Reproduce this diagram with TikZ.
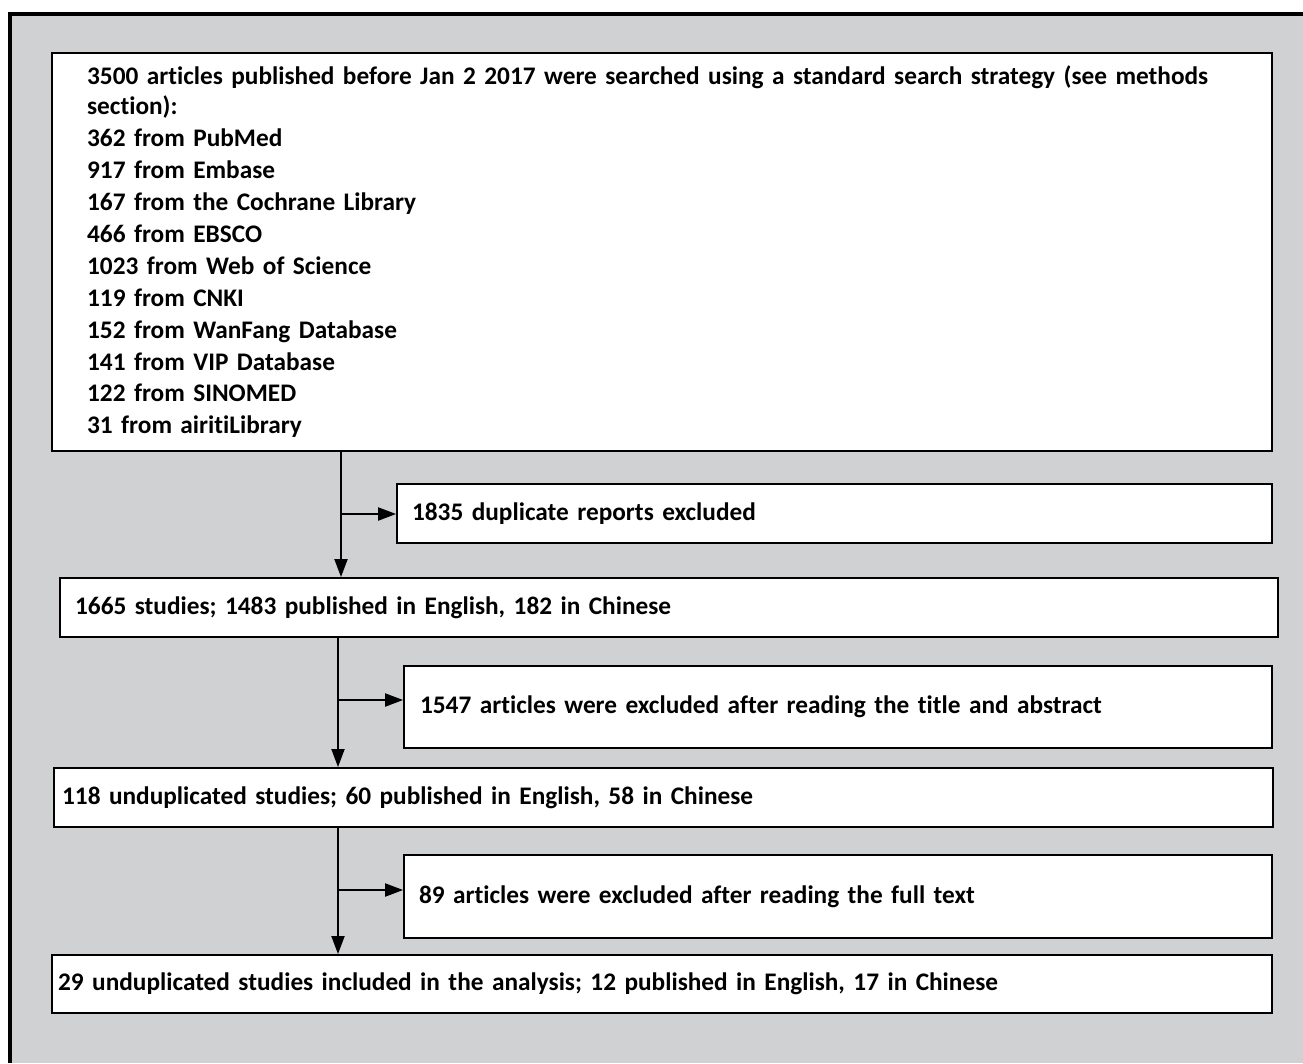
\documentclass[tikz,border=0pt]{standalone}
\usepackage{fontspec}
\setmainfont{Carlito}[Ligatures=NoCommon, WordSpace=0.9]
\usetikzlibrary{arrows.meta}
\definecolor{framegray}{RGB}{208,209,211}

\begin{document}
\begin{tikzpicture}[
  x=0.02cm, y=-0.02cm,
  flowbox/.style={rectangle, draw, fill=white, line width=1.1pt,
    align=left, font=\bfseries\fontsize{14.4}{18.2}\selectfont, inner ysep=0pt},
  arr/.style={-{Triangle[length=0.36cm, width=0.26cm]}, line width=1.1pt}
]
\useasboundingbox (0,0) rectangle (1303,1063);

% Grey frame
\fill[framegray] (10,14) rectangle (1303,1063);
\draw[line width=2.3pt] (10,1063) -- (10,14) -- (1303,14);

% Main column
\node[flowbox, minimum width=24.4cm, minimum height=7.96cm, inner xsep=0.7cm,
  text width=23cm] (search) at (662,252)
  {3500 articles published before Jan 2 2017 were searched using a standard search strategy (see methods\\[-1.5pt]
   section):\\
   362 from PubMed\\
   917 from Embase\\
   167 from the Cochrane Library\\
   466 from EBSCO\\
   1023 from Web of Science\\
   119 from CNKI\\
   152 from WanFang Database\\
   141 from VIP Database\\
   122 from SINOMED\\
   31 from airitiLibrary};
\node[flowbox, minimum width=24.36cm, minimum height=1.18cm, inner xsep=0.3cm,
  text width=23.76cm] (studies) at (669,607.5)
  {1665 studies; 1483 published in English, 182 in Chinese};
\node[flowbox, minimum width=24.38cm, minimum height=1.18cm, inner xsep=0.16cm,
  text width=24.06cm] (undup) at (663.5,797.5)
  {118 unduplicated studies; 60 published in English, 58 in Chinese};
\node[flowbox, minimum width=24.4cm, minimum height=1.16cm, inner xsep=0.12cm,
  text width=24.16cm] (incl) at (662,984)
  {29 unduplicated studies included in the analysis; 12 published in English, 17 in Chinese};

% Excluded boxes
\node[flowbox, minimum width=17.5cm, minimum height=1.18cm, inner xsep=0.3cm,
  text width=16.9cm] (dup) at (834.5,513.5)
  {1835 duplicate reports excluded};
\node[flowbox, minimum width=17.36cm, minimum height=1.64cm, inner xsep=0.32cm,
  text width=16.72cm] (screen) at (838,707)
  {1547 articles were excluded after reading the title and abstract};
\node[flowbox, minimum width=17.36cm, minimum height=1.66cm, inner xsep=0.3cm,
  text width=16.76cm] (fulltext) at (838,896.5)
  {89 articles were excluded after reading the full text};

% Branch points
\coordinate (b1) at (341,514);
\coordinate (b2) at (338,700);
\coordinate (b3) at (338,890);

% Arrows down
\draw[arr] (search.south -| b1) -- (studies.north -| b1);
\draw[arr] (studies.south -| b2) -- (undup.north -| b2);
\draw[arr] (undup.south -| b3) -- (incl.north -| b3);

% Arrows to excluded boxes
\draw[arr] (b1) -- (b1 -| dup.west);
\draw[arr] (b2) -- (b2 -| screen.west);
\draw[arr] (b3) -- (b3 -| fulltext.west);

\end{tikzpicture}
\end{document}
